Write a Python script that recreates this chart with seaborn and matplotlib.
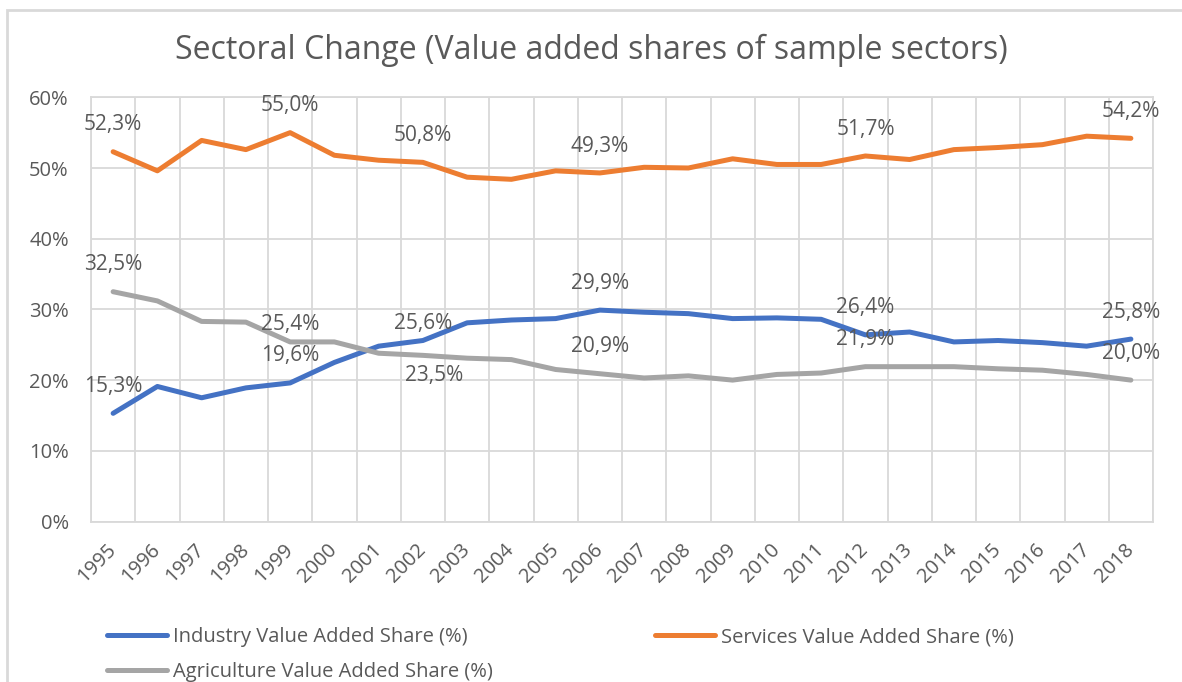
import seaborn as sns
import pandas as pd
import matplotlib.pyplot as plt
from matplotlib.lines import Line2D
from matplotlib.patches import Rectangle
from matplotlib.ticker import PercentFormatter

years = list(range(1995, 2019))
industry = [15.3, 19.1, 17.5, 18.9, 19.6, 22.5, 24.8, 25.6, 28.1, 28.5, 28.7, 29.9,
            29.6, 29.4, 28.7, 28.8, 28.6, 26.4, 26.8, 25.4, 25.6, 25.3, 24.8, 25.8]
services = [52.3, 49.6, 53.9, 52.6, 55.0, 51.8, 51.1, 50.8, 48.7, 48.4, 49.6, 49.3,
            50.1, 50.0, 51.3, 50.5, 50.5, 51.7, 51.2, 52.6, 52.9, 53.3, 54.5, 54.2]
agriculture = [32.5, 31.2, 28.3, 28.2, 25.4, 25.4, 23.8, 23.5, 23.1, 22.9, 21.5, 20.9,
               20.3, 20.6, 20.0, 20.8, 21.0, 21.9, 21.9, 21.9, 21.6, 21.4, 20.8, 20.0]
series_names = ["Industry Value Added Share (%)",
                "Services Value Added Share (%)",
                "Agriculture Value Added Share (%)"]
labelled_years = [1995, 1999, 2002, 2006, 2012, 2018]

colors = ["#4472C4", "#ED7D31", "#A5A5A5"]
text_color = "#595959"
grid_color = "#D9D9D9"

sns.set_theme(style="white")
plt.rcParams['font.family'] = ['Open Sans', 'DejaVu Sans']

rows = []
for name, vals in zip(series_names, [industry, services, agriculture]):
    for i, (y, v) in enumerate(zip(years, vals)):
        rows.append({"pos": i, "year": y, "value": v, "series": name})
df = pd.DataFrame(rows)

W, H = 1182, 682
fig = plt.figure(figsize=(W / 100, H / 100), dpi=100)
ax = fig.add_axes([91 / W, 1 - 521.5 / H, (1153 - 91) / W, (521.5 - 97.3) / H])

sns.lineplot(data=df, x="pos", y="value", hue="series", hue_order=series_names,
             palette=colors, linewidth=3.6, ax=ax, legend=False, zorder=3,
             solid_capstyle="round", solid_joinstyle="round")

ax.set_xlim(-0.5, len(years) - 0.5)
ax.set_ylim(0, 60)
ax.set_xticks(range(len(years)))
ax.set_xticklabels(years)
ax.set_xticks([i - 0.5 for i in range(len(years) + 1)], minor=True)
ax.set_yticks(range(0, 61, 10))
ax.yaxis.set_major_formatter(PercentFormatter(decimals=0))
ax.grid(False)
ax.grid(True, axis="y", which="major", color=grid_color, lw=1.3)
ax.grid(True, axis="x", which="minor", color=grid_color, lw=1.3)
for sp in ax.spines.values():
    sp.set_color(grid_color)
    sp.set_linewidth(1.3)
ax.tick_params(axis="both", which="both", length=0, colors=text_color, labelsize=14.5)
ax.tick_params(axis="x", pad=18.5)
ax.tick_params(axis="y", pad=16)
plt.setp(ax.get_xticklabels(), rotation=45, ha="right", va="center", rotation_mode="anchor")
ax.set_xlabel("")
ax.set_ylabel("")

# data labels (Excel style, comma decimals)
offsets = {(series_names[2], 1999): (0, 12.6),
           (series_names[0], 2002): (0, 12.6),
           (series_names[2], 2002): (8, -14.4)}
for name, vals in zip(series_names, [industry, services, agriculture]):
    for y in labelled_years:
        i = years.index(y)
        dx, dy = offsets.get((name, y), (0, 19.4))
        ax.annotate(f"{vals[i]:.1f}".replace(".", ",") + "%", (i, vals[i]),
                    xytext=(dx, dy), textcoords="offset points",
                    ha="center", va="center", fontsize=15, color=text_color, zorder=4)

fig.text(0.5, 1 - 50 / H, "Sectoral Change (Value added shares of sample sectors)",
         ha="center", va="center", fontsize=23, color=text_color)

handles = [Line2D([], [], color=c, lw=3.6, solid_capstyle="round") for c in colors]
leg_kw = dict(frameon=False, borderpad=0, borderaxespad=0, handlelength=3.0,
              handletextpad=0.3, labelspacing=0.75, fontsize=14.5, labelcolor=text_color)
leg1 = fig.legend([handles[0], handles[2]], [series_names[0], series_names[2]],
                  loc="upper left", bbox_to_anchor=(107 / W, 1 - 627 / H), **leg_kw)
leg2 = fig.legend([handles[1]], [series_names[1]],
                  loc="upper left", bbox_to_anchor=(655 / W, 1 - 627 / H), **leg_kw)

# chart area border
fig.add_artist(Rectangle((7 / W, -0.1), 1.2, 1.1 - 10 / H, transform=fig.transFigure,
                         fill=False, ec=grid_color, lw=2))

fig.savefig("out.png", dpi=100)
